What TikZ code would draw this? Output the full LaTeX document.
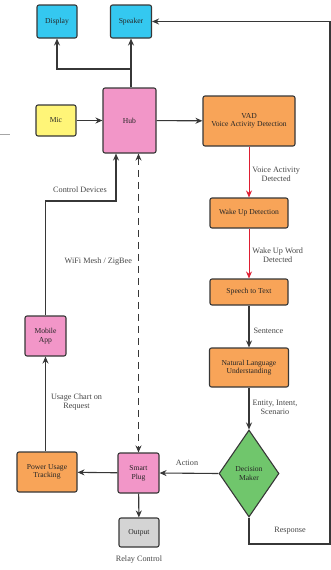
\documentclass[tikz,border=0pt]{standalone}
\usepackage{fontspec}
\setmainfont{Liberation Serif}
\usetikzlibrary{shapes.geometric,arrows.meta,calc}
\definecolor{cyanbox}{RGB}{52,200,240}
\definecolor{yellowbox}{RGB}{255,245,120}
\definecolor{pinkbox}{RGB}{242,150,200}
\definecolor{orangebox}{RGB}{248,164,88}
\definecolor{greenbox}{RGB}{112,198,108}
\definecolor{graybox}{RGB}{212,212,212}
\definecolor{edge}{RGB}{55,55,55}
\definecolor{redline}{RGB}{222,30,50}
\definecolor{labtext}{RGB}{70,70,70}
\tikzset{
  box/.style={draw=edge, line width=1.1pt, rounded corners=2pt, align=center,
    font=\fontsize{7.6}{8.6}\selectfont, inner sep=1pt, text=black!85},
  conn/.style={draw=edge, line width=1.1pt, -{Stealth[length=7pt,width=6pt]}},
  redconn/.style={draw=redline, line width=0.9pt, -{Stealth[length=7pt,width=6pt]}},
  lab/.style={font=\fontsize{8.2}{9.2}\selectfont, align=center, text=labtext, inner sep=1pt}
}
\begin{document}
\begin{tikzpicture}[x=1pt,y=-1pt]
\useasboundingbox (0,0) rectangle (331,570);
% nodes
\node[box, fill=cyanbox, minimum width=40pt, minimum height=33pt] (disp) at (57,21.5) {Display};
\node[box, fill=cyanbox, minimum width=41pt, minimum height=33pt] (spk) at (131,21.5) {Speaker};
\node[box, fill=yellowbox, minimum width=40pt, minimum height=31pt] (mic) at (56,120.5) {Mic};
\node[box, fill=pinkbox, minimum width=53pt, minimum height=65pt] (hub) at (129.5,120.5) {Hub};
\node[box, fill=orangebox, minimum width=92pt, minimum height=50pt] (vad) at (249,121) {VAD\\Voice Activity Detection};
\node[box, fill=orangebox, minimum width=78pt, minimum height=30pt] (wake) at (249,213) {Wake Up Detection};
\node[box, fill=orangebox, minimum width=78pt, minimum height=26pt] (stt) at (249,292) {Speech to Text};
\node[box, fill=orangebox, minimum width=79pt, minimum height=39pt] (nlu) at (249,367.5) {Natural Language\\Understanding};
\node[draw=edge, line width=1.1pt, diamond, fill=greenbox, minimum width=60pt, minimum height=87pt, inner sep=0pt,
  align=center, font=\fontsize{7.6}{8.6}\selectfont, text=black!85] (dm) at (249,473.5) {Decision\\Maker};
\node[box, fill=pinkbox, minimum width=41pt, minimum height=40pt] (sp) at (138.5,473) {Smart\\Plug};
\node[box, fill=orangebox, minimum width=60pt, minimum height=40pt] (pu) at (47,472) {Power Usage\\Tracking};
\node[box, fill=graybox, minimum width=40pt, minimum height=29pt] (out) at (139,532.5) {Output};
\node[box, fill=pinkbox, minimum width=41pt, minimum height=40pt] (mob) at (45.5,336) {Mobile\\App};
\node[lab] (relay) at (139,560) {Relay Control};
% coordinates
\coordinate (j) at (131,69);
\coordinate (r1) at (249,544);
\coordinate (r2) at (330,544);
\coordinate (r3) at (330,21.5);
\coordinate (c1) at (116,201);
\coordinate (s1) at (0,134.5);
\coordinate (s2) at (10,134.5);
% connectors
\draw[conn] (mic) -- (hub);
\draw[conn] (hub) -- (vad);
\draw[draw=edge, line width=1.1pt] (hub.north -| j) -- (j);
\draw[conn] (j) -| (disp.south);
\draw[conn] (j) -- (spk.south -| j);
\draw[conn] (dm.south) -- (r1) -- (r2) -- (r3) -- (spk.east);
\node[lab] at (290,531) {Response};
\draw[redconn] (vad) -- node[lab, right, xshift=2pt, yshift=-2pt] {Voice Activity\\Detected} (wake);
\draw[redconn] (wake) -- node[lab, right, xshift=2pt, yshift=-2pt] {Wake Up Word\\Detected} (stt);
\draw[conn] (stt) -- node[lab, right, xshift=3pt, yshift=-4pt] {Sentence} (nlu);
\draw[conn] (nlu) -- node[lab, right, xshift=2pt, yshift=1pt] {Entity, Intent,\\Scenario} (dm.north);
\draw[conn] (dm.west) -- node[lab, above, yshift=6pt, xshift=-2pt] {Action} (sp.east);
\draw[conn] (sp) -- (pu);
\draw[conn] (sp) -- (out);
\draw[draw=edge, line width=1.0pt, dashed, dash pattern=on 7pt off 5pt, {Stealth[length=7pt,width=6pt]}-{Stealth[length=7pt,width=6pt]}]
  (hub.south -| sp.north) -- node[lab, left, xshift=-5pt, pos=0.36] {WiFi Mesh / ZigBee} (sp.north);
\draw[conn] (pu.north -| mob.south) -- node[lab, right, xshift=4pt, yshift=2pt] {Usage Chart on\\Request} (mob.south);
\draw[conn] (mob.north) |- (c1) -- (c1 |- hub.south);
\node[lab] at (80,190) {Control Devices};
\draw[draw=gray!70, line width=0.8pt] (s1) -- (s2);
\end{tikzpicture}
\end{document}
